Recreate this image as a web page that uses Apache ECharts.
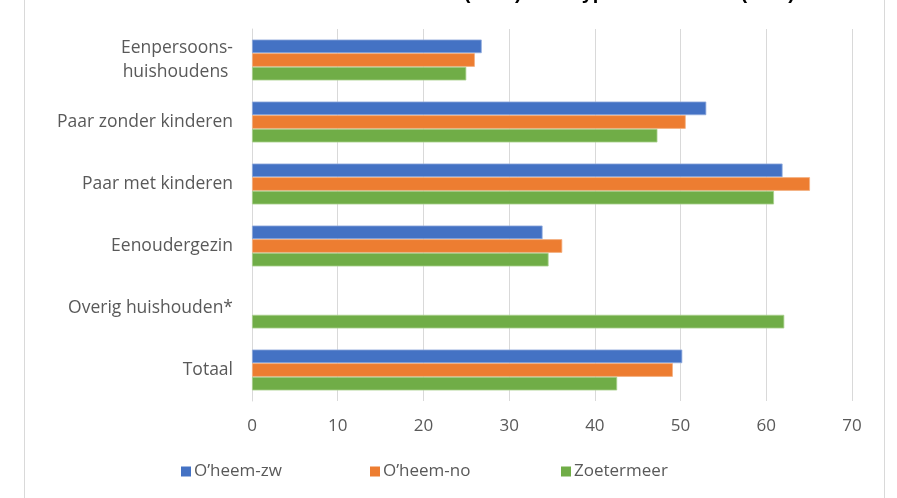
<!DOCTYPE html>
<html>
<head>
<meta charset="utf-8">
<script src="https://cdn.jsdelivr.net/npm/echarts@6/dist/echarts.min.js"></script>
<style>
html,body{margin:0;padding:0;background:#fff;}
#frame{position:absolute;left:24px;top:0;width:859px;height:498px;border-left:1px solid #d9d9d9;border-right:1px solid #d9d9d9;}
#chart{position:absolute;left:0;top:0;width:897px;height:498px;}
</style>
</head>
<body>
<div id="frame"></div>
<div id="chart"></div>
<script>
var categories = ['Eenpersoons-\nhuishoudens ', 'Paar zonder kinderen', 'Paar met kinderen', 'Eenoudergezin', 'Overig huishouden*', 'Totaal'];
var seriesNames = ['O\u2019heem-zw', 'O\u2019heem-no', 'Zoetermeer'];
var oheemZw = [26.8, 53.0, 61.9, 33.9, null, 50.2];
var oheemNo = [26.0, 50.6, 65.1, 36.2, null, 49.1];
var zoetermeer = [25.0, 47.3, 60.9, 34.6, 62.1, 42.6];
var xTicks = [0, 10, 20, 30, 40, 50, 60, 70];
var titleText = 'Aandeel huurders (2019) naar type huishouden (in %)';

var colors = ['#4472c4', '#ed7d31', '#70ad47'];
var borders = ['#8faadc', '#f4b183', '#a9d18e'];
var values = [oheemZw, oheemNo, zoetermeer];

var chart = echarts.init(document.getElementById('chart'));
var legendLefts = [176, 365, 556];
var option = {
  animation: false,
  textStyle: {fontFamily: 'Open Sans'},
  graphic: [{
    type: 'text', right: 102, top: -17,
    style: {text: titleText, fill: '#000', font: 'bold 20px Liberation Sans'}
  }],
  legend: seriesNames.map(function (n, i) {
    return {
      data: [n], left: legendLefts[i], top: 458,
      itemWidth: 10, itemHeight: 10, itemGap: 0,
      icon: 'rect',
      itemStyle: {borderWidth: 0},
      textStyle: {color: '#595959', fontSize: 17, fontFamily: 'Open Sans', padding: [0, 0, 0, -2]}
    };
  }),
  grid: {left: 252, right: 45, top: 29, bottom: 97, containLabel: false},
  xAxis: {
    type: 'value', min: xTicks[0], max: xTicks[xTicks.length - 1], interval: 10,
    axisLine: {show: false}, axisTick: {show: false},
    splitLine: {lineStyle: {color: '#d9d9d9', width: 1}},
    axisLabel: {color: '#595959', fontSize: 17, margin: 17, fontFamily: 'Open Sans'}
  },
  yAxis: {
    type: 'category', data: categories, inverse: true,
    axisLine: {show: true, lineStyle: {color: '#d9d9d9'}},
    axisTick: {show: false},
    axisLabel: {color: '#595959', fontSize: 17.5, margin: 19, lineHeight: 24, align: 'right', fontFamily: 'Open Sans'}
  },
  series: seriesNames.map(function (n, i) {
    return {
      name: n, type: 'bar', data: values[i],
      barGap: '0%', barCategoryGap: '34%',
      itemStyle: {color: colors[i], borderColor: borders[i], borderWidth: 0.8}
    };
  })
};
chart.setOption(option);
</script>
</body>
</html>
